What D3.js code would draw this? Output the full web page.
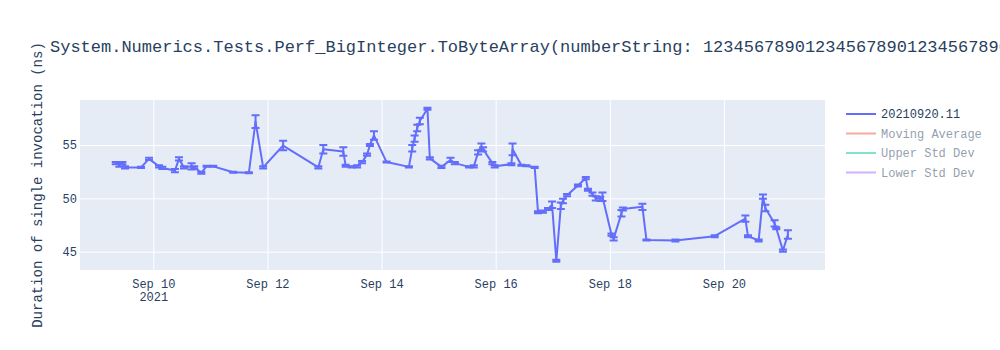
<!DOCTYPE html>
<html><head><meta charset="utf-8">
<script src="https://cdn.jsdelivr.net/npm/d3@7"></script>
<style>body{margin:0;background:#fff}svg{display:block}</style>
</head><body>
<svg id="c" width="1000" height="350"></svg>
<script>
const titleText = "System.Numerics.Tests.Perf_BigInteger.ToByteArray(numberString: 123456789012345678901234567890123456789012345678901234567890)";
const yAxisTitle = "Duration of single invocation (ns)";
const seriesName = "20210920.11";
const legendOnly = ["Moving Average", "Upper Std Dev", "Lower Std Dev"];
const legendOnlyColors = ["#EF553B", "#00cc96", "#ab63fa"];
const yTicks = [45, 50, 55];
const xTickDates = ["2021-09-10", "2021-09-12", "2021-09-14", "2021-09-16", "2021-09-18", "2021-09-20"];

const dates = [
"2021-09-09T08:12","2021-09-09T09:42","2021-09-09T11:00","2021-09-09T12:06","2021-09-09T18:50","2021-09-09T22:12",
"2021-09-10T02:24","2021-09-10T03:48","2021-09-10T09:06","2021-09-10T10:48","2021-09-10T12:54","2021-09-10T16:06",
"2021-09-10T17:12","2021-09-10T20:12","2021-09-10T22:24","2021-09-11T01:12","2021-09-11T09:36","2021-09-11T16:12",
"2021-09-11T19:00","2021-09-11T22:12","2021-09-12T06:36","2021-09-12T21:24","2021-09-12T23:30","2021-09-13T07:54",
"2021-09-13T08:54","2021-09-13T11:24","2021-09-13T13:42","2021-09-13T15:48","2021-09-13T17:54","2021-09-13T19:06",
"2021-09-13T20:48","2021-09-14T02:06","2021-09-14T11:30","2021-09-14T12:54","2021-09-14T13:54","2021-09-14T15:00",
"2021-09-14T16:06","2021-09-14T19:18","2021-09-14T20:18","2021-09-15T01:12","2021-09-15T05:00","2021-09-15T06:48",
"2021-09-15T12:48","2021-09-15T14:48","2021-09-15T16:36","2021-09-15T18:00","2021-09-15T18:42","2021-09-15T22:36",
"2021-09-15T23:36","2021-09-16T06:36","2021-09-16T07:06","2021-09-16T10:48","2021-09-16T12:54","2021-09-16T16:24",
"2021-09-16T17:48","2021-09-16T19:54","2021-09-16T22:00","2021-09-16T23:42","2021-09-17T01:30","2021-09-17T03:24",
"2021-09-17T04:18","2021-09-17T06:00","2021-09-17T10:36","2021-09-17T13:54","2021-09-17T14:48","2021-09-17T16:42",
"2021-09-17T18:06","2021-09-17T20:00","2021-09-17T20:54","2021-09-18T00:42","2021-09-18T01:36","2021-09-18T04:54",
"2021-09-18T05:30","2021-09-18T13:42","2021-09-18T15:24","2021-09-19T03:36","2021-09-19T20:06","2021-09-20T09:00",
"2021-09-20T10:06","2021-09-20T14:36","2021-09-20T16:24","2021-09-20T17:24","2021-09-20T21:18","2021-09-20T22:00",
"2021-09-21T00:48","2021-09-21T02:54"];
const values = [
53.3,53.1,53.3,52.9,52.9,53.7,
53.0,52.85,52.6,53.7,52.9,53.0,
52.9,52.4,53.0,53.0,52.45,52.4,
57.2,52.9,54.95,52.9,54.6,54.4,
53.05,52.95,53.0,53.4,54.1,55.0,
55.9,53.4,52.95,54.7,55.6,56.6,
57.25,58.4,53.75,52.95,53.6,53.3,
52.95,53.0,54.3,54.85,54.6,53.3,
53.0,53.2,54.6,53.1,53.05,52.9,
48.7,48.75,49.0,49.4,44.15,49.3,
49.75,50.3,51.2,51.9,50.8,50.4,
50.0,49.95,50.15,46.6,46.2,48.6,
49.0,49.2,46.1,46.05,46.45,48.1,
46.45,46.05,50.15,49.1,47.65,47.2,
45.1,46.6];
const errors = [
0.1,0.15,0.1,0.1,0.05,0.1,
0.1,0.1,0.15,0.15,0.1,0.3,
0.1,0.1,0.05,0.05,0.05,0.05,
0.6,0.1,0.45,0.1,0.4,0.4,
0.1,0.05,0.1,0.1,0.1,0.1,
0.4,0.05,0.05,0.3,0.3,0.3,
0.3,0.1,0.1,0.1,0.2,0.1,
0.05,0.1,0.2,0.3,0.2,0.1,
0.1,0.1,0.55,0.05,0.05,0.05,
0.1,0.1,0.1,0.3,0.1,0.3,
0.2,0.1,0.1,0.1,0.1,0.15,
0.2,0.2,0.4,0.1,0.15,0.3,
0.15,0.3,0.05,0.1,0.1,0.3,
0.1,0.1,0.2,0.3,0.3,0.1,
0.1,0.4];

const parse = d3.timeParse("%Y-%m-%dT%H:%M");
const parseDay = d3.timeParse("%Y-%m-%d");
const data = dates.map((d,i)=>({t:parse(d), v:values[i], e:errors[i]}));

const svg = d3.select("#c");
const font = "'Liberation Mono', 'Courier New', monospace";
const L=80, R=825, T=100, B=270;
const x = d3.scaleTime().domain([parse("2021-09-08T17:10"), parse("2021-09-21T18:30")]).range([L,R]);
const y = d3.scaleLinear().domain([43.28, 59.22]).range([B,T]);

svg.append("rect").attr("x",L).attr("y",T).attr("width",R-L).attr("height",B-T).attr("fill","#e5ecf6");

const xt = xTickDates.map(parseDay);
const gx = svg.append("g").attr("transform",`translate(0,${B})`)
  .call(d3.axisBottom(x).tickValues(xt).tickSize(0).tickPadding(0).tickFormat(d3.timeFormat("%b %d")));
gx.select(".domain").remove();
gx.selectAll(".tick line").clone().attr("y1",0).attr("y2",-(B-T)).attr("stroke","#fff").attr("stroke-width",1);
gx.selectAll(".tick text").attr("font-family",font).attr("font-size",12).attr("fill","#2a3f5f").attr("dy",null).attr("y",18);
gx.selectAll(".tick").filter((d,i)=>i===0).append("text").text("2021")
  .attr("y",31).attr("text-anchor","middle").attr("font-family",font).attr("font-size",12).attr("fill","#2a3f5f");

const gy = svg.append("g").attr("transform",`translate(${L},0)`)
  .call(d3.axisLeft(y).tickValues(yTicks).tickSize(0).tickPadding(3));
gy.select(".domain").remove();
gy.selectAll(".tick").append("line").attr("x1",0).attr("x2",R-L).attr("stroke","#fff").attr("stroke-width",1);
gy.selectAll(".tick text").attr("font-family",font).attr("font-size",12).attr("fill","#2a3f5f");

const plot = svg.append("g");
const col = "#636efa";
const eb = plot.append("g").attr("stroke",col).attr("stroke-width",2).attr("fill","none");
data.forEach(d=>{
  const xx=x(d.t), y1=y(d.v+d.e), y0=y(d.v-d.e);
  eb.append("path").attr("d",`M${xx},${y0}V${y1}M${xx-4},${y1}H${xx+4}M${xx-4},${y0}H${xx+4}`);
});
plot.append("path").datum(data).attr("fill","none").attr("stroke",col).attr("stroke-width",2)
  .attr("stroke-linejoin","round")
  .attr("d", d3.line().x(d=>x(d.t)).y(d=>y(d.v)));

svg.append("text").attr("x",50).attr("y",52).text(titleText)
  .attr("font-family",font).attr("font-size",17).attr("fill","#2a3f5f");
svg.append("text").attr("transform",`translate(42,${(T+B)/2}) rotate(-90)`).attr("text-anchor","middle")
  .text(yAxisTitle).attr("font-family",font).attr("font-size",14).attr("fill","#2a3f5f");

const leg = svg.append("g");
const items = [{n:seriesName,c:col,o:1}].concat(legendOnly.map((n,i)=>({n,c:legendOnlyColors[i],o:0.5})));
items.forEach((it,i)=>{
  const yy = 114 + i*19.5;
  const g = leg.append("g").attr("opacity",it.o);
  g.append("line").attr("x1",846).attr("x2",876).attr("y1",yy).attr("y2",yy).attr("stroke",it.c).attr("stroke-width",2);
  g.append("text").attr("x",881).attr("y",yy+4).text(it.n).attr("font-family",font).attr("font-size",12).attr("fill","#2a3f5f");
});
</script>
</body></html>
